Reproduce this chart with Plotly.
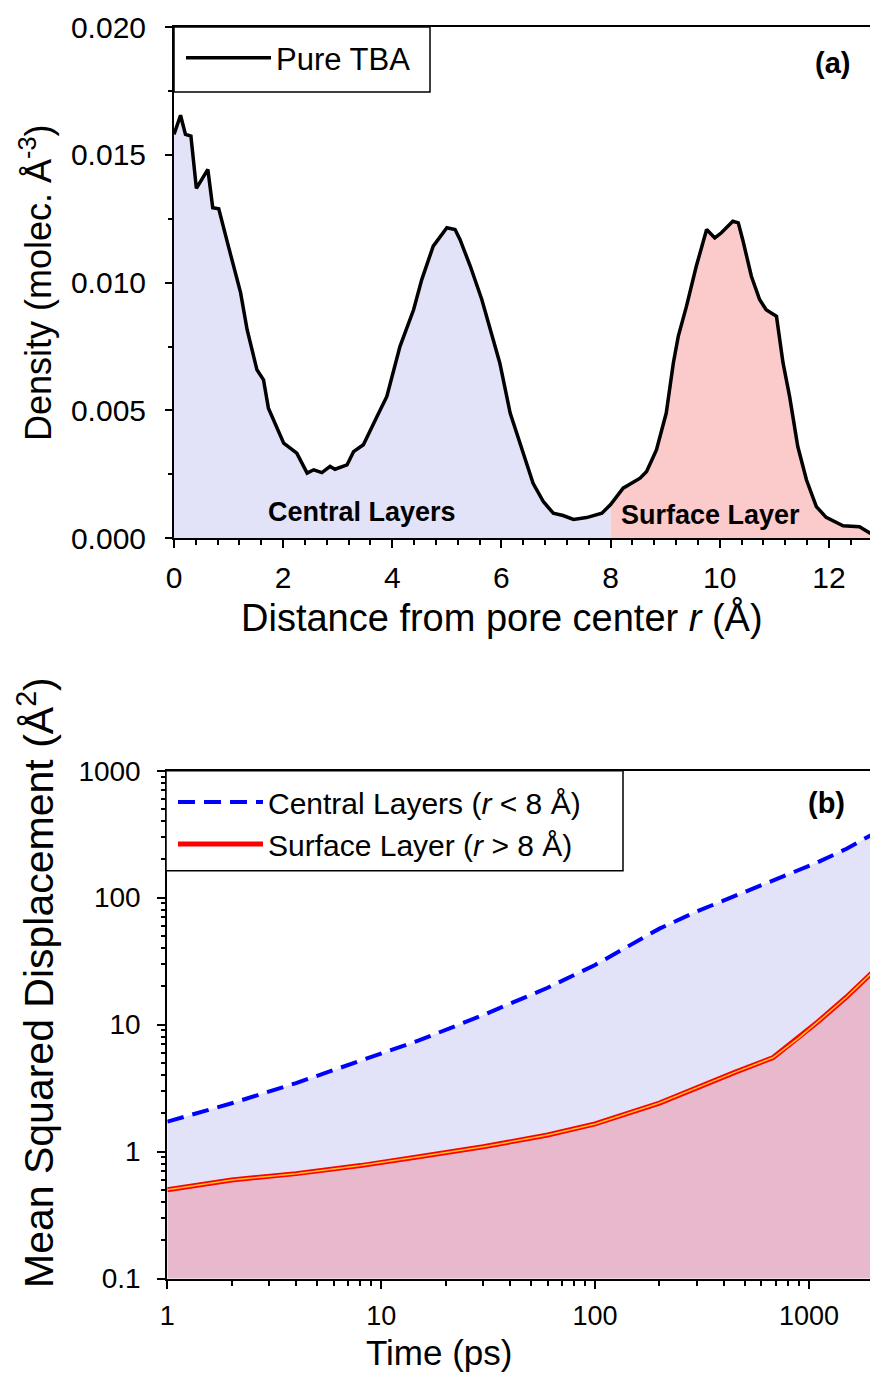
import numpy as np
import plotly.graph_objects as go

W, H = 878, 1395
PAGE_PAD = 8  # the browser's default body margin shifts the figure by this much

# (a) number density of pure TBA vs distance from the pore centre
r_ang = [0.00, 0.12, 0.21, 0.31, 0.41, 0.62, 0.71, 0.82, 1.00, 1.22, 1.34, 1.52,
         1.64, 1.73, 2.01, 2.25, 2.44, 2.56, 2.71, 2.86, 2.95, 3.17, 3.29, 3.47,
         3.72, 3.90, 4.14, 4.39, 4.54, 4.75, 5.00, 5.15, 5.24, 5.43, 5.64, 5.76,
         5.97, 6.16, 6.43, 6.58, 6.77, 6.95, 7.13, 7.32, 7.56, 7.84, 8.00, 8.23,
         8.54, 8.66, 8.84, 9.02, 9.15, 9.24, 9.39, 9.57, 9.76, 9.91, 10.03, 10.24,
         10.34, 10.42, 10.58, 10.73, 10.85, 11.04, 11.16, 11.28, 11.43, 11.59,
         11.77, 11.95, 12.26, 12.56, 12.74, 12.89]
density = [0.01580, 0.01655, 0.01580, 0.01573, 0.01369, 0.01443, 0.01293, 0.01289,
           0.01140, 0.00961, 0.00816, 0.00659, 0.00620, 0.00509, 0.00372, 0.00333,
           0.00255, 0.00268, 0.00257, 0.00281, 0.00270, 0.00287, 0.00339, 0.00366,
           0.00476, 0.00555, 0.00750, 0.00894, 0.01012, 0.01143, 0.01215, 0.01208,
           0.01169, 0.01064, 0.00934, 0.00842, 0.00686, 0.00490, 0.00307, 0.00215,
           0.00143, 0.00098, 0.00089, 0.00074, 0.00081, 0.00098, 0.00132, 0.00196,
           0.00235, 0.00261, 0.00346, 0.00490, 0.00686, 0.00790, 0.00907, 0.01064,
           0.01208, 0.01175, 0.01195, 0.01240, 0.01234, 0.01169, 0.01025, 0.00934,
           0.00894, 0.00868, 0.00686, 0.00555, 0.00359, 0.00228, 0.00124, 0.00082,
           0.00049, 0.00045, 0.00022, 0.00006]
SPLIT_R = 8.0

# (b) mean squared displacement
time_ps = [1, 2, 4, 8, 15, 30, 60, 100, 200, 300, 450, 680, 900, 1100, 1500, 2000]
msd_central = [1.72, 2.40, 3.46, 5.15, 7.5, 11.9, 19.5, 29.5, 57, 78, 103, 137,
               165, 190, 243, 318]
msd_surface = [0.50, 0.597, 0.67, 0.775, 0.91, 1.09, 1.35, 1.65, 2.41, 3.2, 4.2,
               5.5, 7.9, 10.5, 16.5, 26.2]

FONT = "Liberation Sans, Arial, sans-serif"
LAVENDER = "#E2E2F8"
PINK = "#FBCACA"
MAUVE = "#E8B8CC"


def px(x):
    return (x - PAGE_PAD) / W


def py(y):
    return 1 - (y - PAGE_PAD) / H


r = np.array(r_ang)
rho = np.array(density)
inner = r <= SPLIT_R
outer = r >= SPLIT_R

fig = go.Figure()

# ---- panel (a)
fig.add_trace(go.Scatter(x=r[inner], y=rho[inner], mode="lines", line=dict(width=0),
                         fill="tozeroy", fillcolor=LAVENDER, showlegend=False,
                         xaxis="x", yaxis="y"))
fig.add_trace(go.Scatter(x=r[outer], y=rho[outer], mode="lines", line=dict(width=0),
                         fill="tozeroy", fillcolor=PINK, showlegend=False,
                         xaxis="x", yaxis="y"))
fig.add_trace(go.Scatter(x=r_ang, y=density, mode="lines", name="Pure TBA",
                         line=dict(color="black", width=3.5),
                         xaxis="x", yaxis="y", legend="legend"))

# ---- panel (b)
fig.add_trace(go.Scatter(x=time_ps, y=msd_surface, mode="lines", line=dict(width=0),
                         fill="tozeroy", fillcolor=MAUVE, showlegend=False,
                         xaxis="x2", yaxis="y2"))
fig.add_trace(go.Scatter(x=time_ps, y=msd_central, mode="lines", line=dict(width=0),
                         fill="tonexty", fillcolor=LAVENDER, showlegend=False,
                         xaxis="x2", yaxis="y2"))
fig.add_trace(go.Scatter(x=time_ps, y=msd_central, mode="lines",
                         name="Central Layers (<i>r</i> &lt; 8 Å)",
                         line=dict(color="#0000FF", width=4, dash="17px,9px"),
                         xaxis="x2", yaxis="y2", legend="legend2"))
fig.add_trace(go.Scatter(x=time_ps, y=msd_surface, mode="lines",
                         name="Surface Layer (<i>r</i> &gt; 8 Å)",
                         line=dict(color="#FF0000", width=5),
                         xaxis="x2", yaxis="y2", legend="legend2"))
fig.add_trace(go.Scatter(x=time_ps, y=msd_surface, mode="lines",
                         line=dict(color="#FFC21A", width=1.5), showlegend=False,
                         hoverinfo="skip", xaxis="x2", yaxis="y2"))

axis_common = dict(showline=True, linecolor="black", linewidth=2, ticks="outside",
                   tickcolor="black", tickwidth=1.5, showgrid=False, zeroline=False,
                   mirror=True, automargin=False)

decades_t = [1, 10, 100, 1000]
decades_msd = [0.1, 1, 10, 100, 1000]
minor_t = [d * k for d in decades_t for k in range(2, 10) if d * k <= 2000]
minor_msd = [d * k for d in decades_msd[:-1] for k in range(2, 10)]

fig.update_layout(
    width=W, height=H,
    margin=dict(l=0, r=0, t=0, b=0, pad=0),
    paper_bgcolor="white", plot_bgcolor="white",
    font=dict(family=FONT, color="black"),
    xaxis=dict(**axis_common, domain=[px(174), px(878)], anchor="y",
               range=[0, 12.9], dtick=2, tick0=0, ticklen=8,
               tickfont=dict(size=30), ticklabelstandoff=4,
               minor=dict(dtick=0.4, ticks="outside", ticklen=5, tickcolor="black",
                          tickwidth=1.5)),
    yaxis=dict(**axis_common, domain=[py(538.3), py(27)], anchor="x",
               range=[0, 0.02], dtick=0.005, tickformat=".3f", ticklen=7,
               tickfont=dict(size=30), ticklabelstandoff=13,
               minor=dict(dtick=0.0025, ticks="outside", ticklen=4, tickcolor="black",
                          tickwidth=1.5)),
    xaxis2=dict(**axis_common, domain=[px(167.3), px(873.3)], anchor="y2",
                type="log", range=[0, np.log10(2000)],
                tickvals=decades_t, ticktext=[str(v) for v in decades_t], ticklen=8,
                tickfont=dict(size=27), ticklabelstandoff=4,
                minor=dict(tickvals=minor_t, ticks="outside", ticklen=5,
                           tickcolor="black", tickwidth=1.5)),
    yaxis2=dict(**axis_common, domain=[py(1278.5), py(770.7)], anchor="x2",
                type="log", range=[-1, 3],
                tickvals=decades_msd, ticktext=["0.1", "1", "10", "100", "1000"],
                ticklen=8, tickfont=dict(size=28), ticklabelstandoff=11,
                minor=dict(tickvals=minor_msd, ticks="outside", ticklen=4,
                           tickcolor="black", tickwidth=1.5)),
    legend=dict(x=px(181), y=py(31), xanchor="left", yanchor="top",
                bgcolor="rgba(0,0,0,0)", borderwidth=0,
                font=dict(size=31), itemwidth=85),
    legend2=dict(x=px(173), y=py(776), xanchor="left", yanchor="top",
                 bgcolor="rgba(0,0,0,0)", borderwidth=0,
                 font=dict(size=30), itemwidth=85, tracegroupgap=0),
)

# legend frames, sized like the reference boxes
for x0, y0, x1, y1 in [(174, 27, 430, 92), (166, 770.7, 623, 870.7)]:
    fig.add_shape(type="rect", xref="paper", yref="paper", layer="above",
                  x0=px(x0), x1=px(x1), y0=py(y1), y1=py(y0),
                  line=dict(color="black", width=1.5), fillcolor="white")

annotations = [
    dict(text="Density (molec. Å<sup>-3</sup>)", x=px(36), y=py(283), textangle=-90,
         font=dict(size=36)),
    dict(text="Distance from pore center <i>r</i> (Å)", x=px(502), y=py(617),
         font=dict(size=38)),
    dict(text="<b>(a)</b>", x=px(832), y=py(63), font=dict(size=29)),
    dict(text="<b>Central Layers</b>", x=px(362), y=py(512), font=dict(size=27)),
    dict(text="<b>Surface Layer</b>", x=px(710), y=py(515), font=dict(size=27)),
    dict(text="Mean Squared Displacement (Å<sup>2</sup>)", x=px(36), y=py(983),
         textangle=-90, font=dict(size=41)),
    dict(text="Time (ps)", x=px(439), y=py(1352), font=dict(size=35)),
    dict(text="<b>(b)</b>", x=px(826), y=py(803), font=dict(size=29)),
]
for a in annotations:
    fig.add_annotation(xref="paper", yref="paper", showarrow=False,
                       xanchor="center", yanchor="middle", **a)

fig.write_html("out.html")
